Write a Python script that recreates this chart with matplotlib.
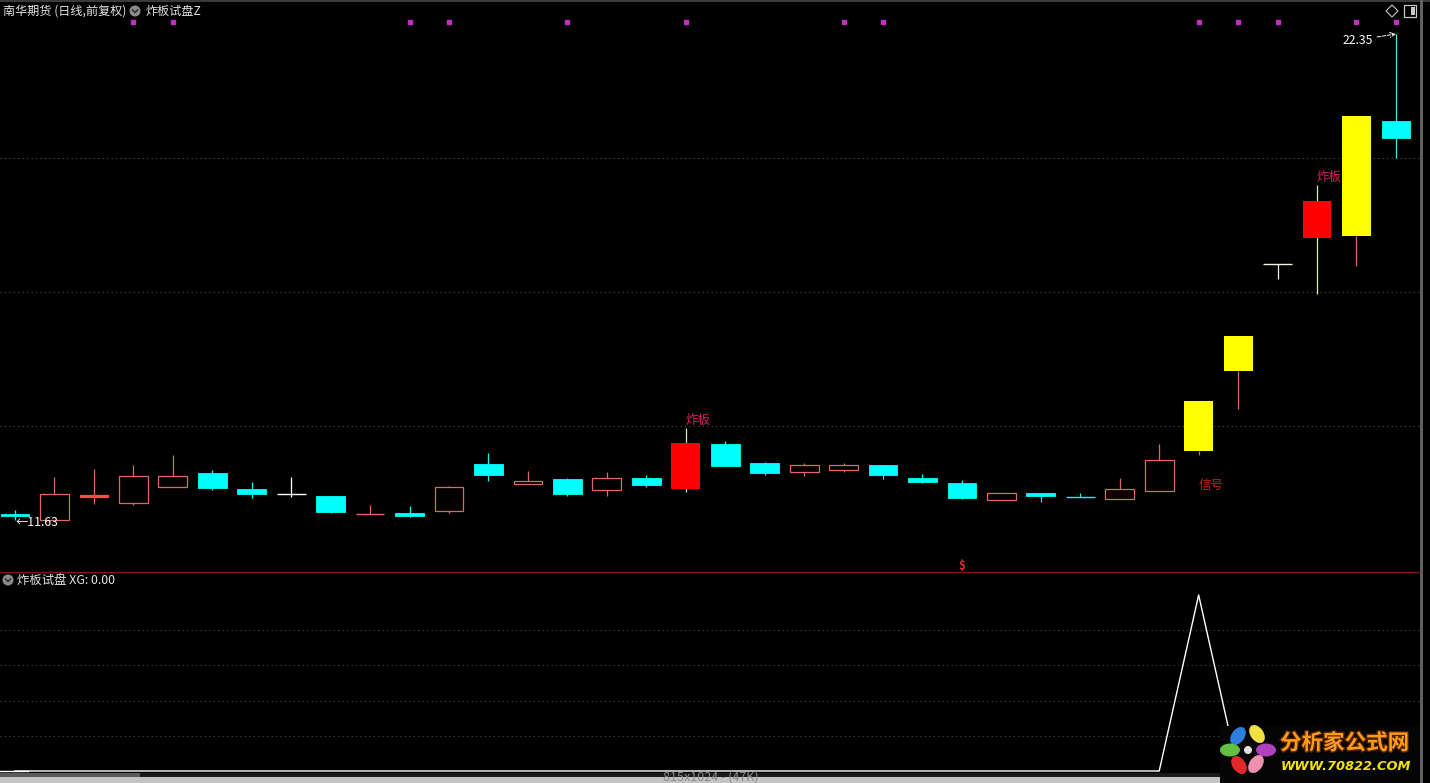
import matplotlib.pyplot as plt
import matplotlib.patheffects as pe
from matplotlib.patches import Rectangle, Ellipse, Circle, Polygon
import matplotlib.transforms as mtransforms

plt.rcParams['font.family'] = ['Noto Sans CJK SC', 'DejaVu Sans']

# 日K线数据
opens = [11.76, 11.64, 12.13, 12.00, 12.36, 12.67, 12.31, 12.20, 12.16, 11.76,
         11.78, 11.83, 12.87, 12.42, 12.53, 12.29, 12.56, 12.31, 13.31, 12.89,
         12.69, 12.73, 12.84, 12.56, 12.45, 12.07, 12.23, 12.14, 12.09, 12.27,
         13.15, 14.92, 17.28, 17.85, 17.89, 20.43]
closes = [11.72, 12.20, 12.19, 12.60, 12.60, 12.34, 12.20, 12.20, 11.81, 11.76,
          11.72, 12.36, 12.62, 12.49, 12.20, 12.56, 12.40, 13.33, 12.82, 12.67,
          12.84, 12.84, 12.62, 12.47, 12.12, 12.23, 12.16, 12.14, 12.31, 12.95,
          14.25, 15.69, 17.28, 18.67, 20.54, 20.06]
highs = [11.85, 12.58, 12.75, 12.84, 13.06, 12.73, 12.47, 12.58, 12.16, 11.96,
         11.94, 12.38, 13.11, 12.71, 12.56, 12.69, 12.62, 13.66, 13.37, 12.91,
         12.89, 12.89, 12.84, 12.64, 12.51, 12.23, 12.23, 12.23, 12.56, 13.31,
         14.25, 15.69, 17.28, 19.02, 20.54, 22.35]
lows = [11.63, 11.64, 11.98, 11.96, 12.36, 12.29, 12.12, 12.14, 11.78, 11.76,
        11.70, 11.78, 12.49, 12.42, 12.16, 12.16, 12.36, 12.25, 12.82, 12.62,
        12.60, 12.69, 12.53, 12.45, 12.09, 12.07, 12.03, 12.14, 12.09, 12.27,
        13.06, 14.08, 16.95, 16.62, 17.23, 19.61]
# up=阳线 down=阴线 doji=十字 zb=炸板 zt=涨停
kinds = ['down', 'up', 'up', 'up', 'up', 'down', 'down', 'doji', 'down', 'doji_up',
         'down', 'up', 'down', 'up', 'down', 'up', 'down', 'zb', 'down', 'down',
         'up', 'up', 'down', 'down', 'down', 'up', 'down', 'doji_dn', 'up', 'up',
         'zt', 'zt', 'doji_t', 'zb', 'zt', 'down']
# 顶部紫色标记
dot_idx = [3, 4, 10, 11, 14, 17, 21, 22, 30, 31, 32, 34, 35]
# XG 指标
xg = [0, 0, 0, 0, 0, 0, 0, 0, 0, 0, 0, 0, 0, 0, 0, 0, 0, 0, 0, 0,
      0, 0, 0, 0, 0, 0, 0, 0, 0, 0, 1, 0, 0, 0, 0, 0]
dollar_idx = 24
dollar_price = 10.62
grid_prices = [13.70, 16.66, 19.61]
grid_xg = [0.2, 0.4, 0.6, 0.8]

W, H = 1430, 783
fig = plt.figure(figsize=(W / 100, H / 100), dpi=100, facecolor='black')

# 主图
ax = fig.add_axes([0, (H - 572) / H, 1420 / W, 572 / H], facecolor='black')
ax.set_xlim(-0.38, 35.61)
ax.set_ylim(10.483, 23.10)
ax.axis('off')

for g in grid_prices:
    ax.axhline(g, color='#6b4848', lw=0.8, ls=(0, (1, 3)), zorder=0)

bw = 0.73
cyan = '#00ffff'
hollow = '#e06868'
for i, (o, c, h, l, k) in enumerate(zip(opens, closes, highs, lows, kinds)):
    top, bot = max(o, c), min(o, c)
    if k == 'down':
        ax.vlines(i, l, h, color='#40e8e8' if i == 35 else cyan, lw=0.9, zorder=1)
        ax.bar(i, top - bot, bottom=bot, width=bw, color=cyan, edgecolor=cyan, lw=0.6,
               zorder=2)
    elif k == 'up':
        ec = '#ff4a4a' if top - bot < 0.065 else hollow
        ax.vlines(i, top, h, color=hollow, lw=0.9, zorder=1)
        ax.vlines(i, l, bot, color=hollow, lw=0.9, zorder=1)
        ax.bar(i, top - bot, bottom=bot, width=bw, facecolor=ec if ec != hollow else 'black',
               edgecolor=ec, lw=0.9, zorder=2)
    elif k == 'zb':
        ax.vlines(i, l, h, color='#c8f0b8', lw=0.9, zorder=1)
        ax.bar(i, top - bot, bottom=bot, width=bw, color='#ff0000', lw=0, zorder=2)
    elif k == 'zt':
        ax.vlines(i, l, bot, color=hollow, lw=0.9, zorder=1)
        ax.bar(i, top - bot, bottom=bot, width=bw, color='#ffff00', lw=0, zorder=2)
    else:
        col = {'doji': 'white', 'doji_up': hollow, 'doji_dn': cyan, 'doji_t': '#f4f4d8'}[k]
        ax.vlines(i, l, h, color=col, lw=0.9, zorder=1)
        ax.hlines(o, i - bw / 2, i + bw / 2, color=col, lw=1.0, zorder=2)

# 顶部标记点
trans = mtransforms.blended_transform_factory(ax.transData, ax.transAxes)
ax.plot(dot_idx, [(572 - 22) / 572] * len(dot_idx), 's', ms=2.4, color='#c030c0',
        transform=trans, clip_on=False)

# 文字标注
for i, k in enumerate(kinds):
    if k == 'zb':
        ax.annotate('炸板', (i, highs[i]), xytext=(0, 1), textcoords='offset pixels',
                    ha='left', va='bottom', color='#d8205a', fontsize=9)
for i, v in enumerate(xg):
    if v == 1:
        ax.annotate('信号', (i, lows[i]), xytext=(0, -30), textcoords='offset pixels',
                    ha='left', va='center', color='#c82020', fontsize=9)
ax.text(dollar_idx, dollar_price, '$', color='#e03030', fontsize=8, fontweight='bold',
        ha='center', va='center')

imax = highs.index(max(highs))
ax.annotate('%.2f' % highs[imax], (imax, highs[imax]), xytext=(-23, -6),
            textcoords='offset pixels', ha='right', va='center', color='white', fontsize=8.8,
            arrowprops=dict(arrowstyle='->', ls='--', color='white', lw=0.7,
                            shrinkA=1, shrinkB=0))
imin = lows.index(min(lows))
ax.annotate('←%.2f' % lows[imin], (imin, lows[imin]), xytext=(1, -3),
            textcoords='offset pixels', ha='left', va='center', color='white', fontsize=8.8)

# 副图 XG
ax2 = fig.add_axes([0, 10 / H, 1420 / W, 201 / H], facecolor='black')
ax2.set_xlim(-0.38, 35.61)
ax2.set_ylim(-0.0114, 1.1307)
ax2.axis('off')
for g in grid_xg:
    ax2.axhline(g, color='#4c4c4c', lw=0.8, ls=(0, (1, 3)), zorder=0)
ax2.plot(range(len(xg)), xg, color='white', lw=1.0)
ax2.axhline(0, xmax=0.02, color='white', lw=1.0)

# 边框与装饰 (像素坐标)
ov = fig.add_axes([0, 0, 1, 1], facecolor='none')
ov.set_xlim(0, W)
ov.set_ylim(H, 0)
ov.axis('off')
ov.add_patch(Rectangle((0, 0), 1430, 2, color='#3a3a3a', lw=0))
ov.plot([0, 1420], [572, 572], color='#7a1a1a', lw=0.9)
ov.add_patch(Rectangle((1420, 0), 3, 783, color='#606060', lw=0))
ov.add_patch(Rectangle((0, 773), 1420, 4, color='#1a1a1a', lw=0))
ov.add_patch(Rectangle((0, 777), 1420, 6, color='#c4c4c4', lw=0))
ov.add_patch(Rectangle((0, 773), 140, 4, color='#5a5a5a', lw=0))
t = ov.text(663, 771, '815x1024 - (47K)', color='#8a8a8a', fontsize=9, va='top', ha='left')
t.set_clip_path(Rectangle((0, 772), 1420, 6, transform=ov.transData))

# 标题
ov.text(3, 11, '南华期货 (日线,前复权)', color='#e4e4e4', fontsize=8.7, va='center')
for cx, cy in [(135, 11), (8, 580)]:
    ov.add_patch(Circle((cx, cy), 5.5, color='#8a8a8a', lw=0))
    ov.plot([cx - 2.5, cx, cx + 2.5], [cy - 1, cy + 1.5, cy - 1], color='#2a2a2a', lw=1.1)
ov.text(146, 11, '炸板试盘Z', color='#e4e4e4', fontsize=8.7, va='center')
ov.text(17, 580, '炸板试盘 XG: %.2f' % 0.0, color='#e4e4e4', fontsize=8.9, va='center')

# 右上角图标
ov.add_patch(Polygon([(1392, 5), (1398, 11), (1392, 17), (1386, 11)], closed=True,
                     fill=False, edgecolor='#c8c8c8', lw=0.8))
ov.add_patch(Rectangle((1404, 5), 12, 12, fill=False, edgecolor='#c8c8c8', lw=0.9))
ov.add_patch(Rectangle((1411, 7), 4, 8, color='#c8c8c8', lw=0))

# 水印 logo
ov.add_patch(Rectangle((1220, 726), 200, 57, color='#050505', lw=0))
petals = [((1238, 736), '#2a7fe0', 35), ((1257, 734), '#f0e040', -35),
          ((1266, 750), '#b040c0', 90), ((1256, 764), '#f090b0', 35),
          ((1239, 765), '#e02a2a', -35), ((1230, 750), '#60c040', 90)]
for (px, py), pc, ang in petals:
    ov.add_patch(Ellipse((px, py), 13, 20, angle=ang, color=pc, lw=0))
ov.add_patch(Circle((1248, 750), 4, color='#e0e0e0', lw=0))
ov.text(1280, 743, '分析家公式网', color='#ff9a1a', fontsize=15.5, fontweight='bold',
        va='center', ha='left',
        path_effects=[pe.withStroke(linewidth=2, foreground='#4a2000')])
ov.text(1281, 767, 'WWW.70822.COM', color='#f4e400', fontsize=9.4, fontweight='bold',
        style='italic', va='center', ha='left', family='DejaVu Sans')

fig.savefig('out.png', dpi=100, facecolor='black')
